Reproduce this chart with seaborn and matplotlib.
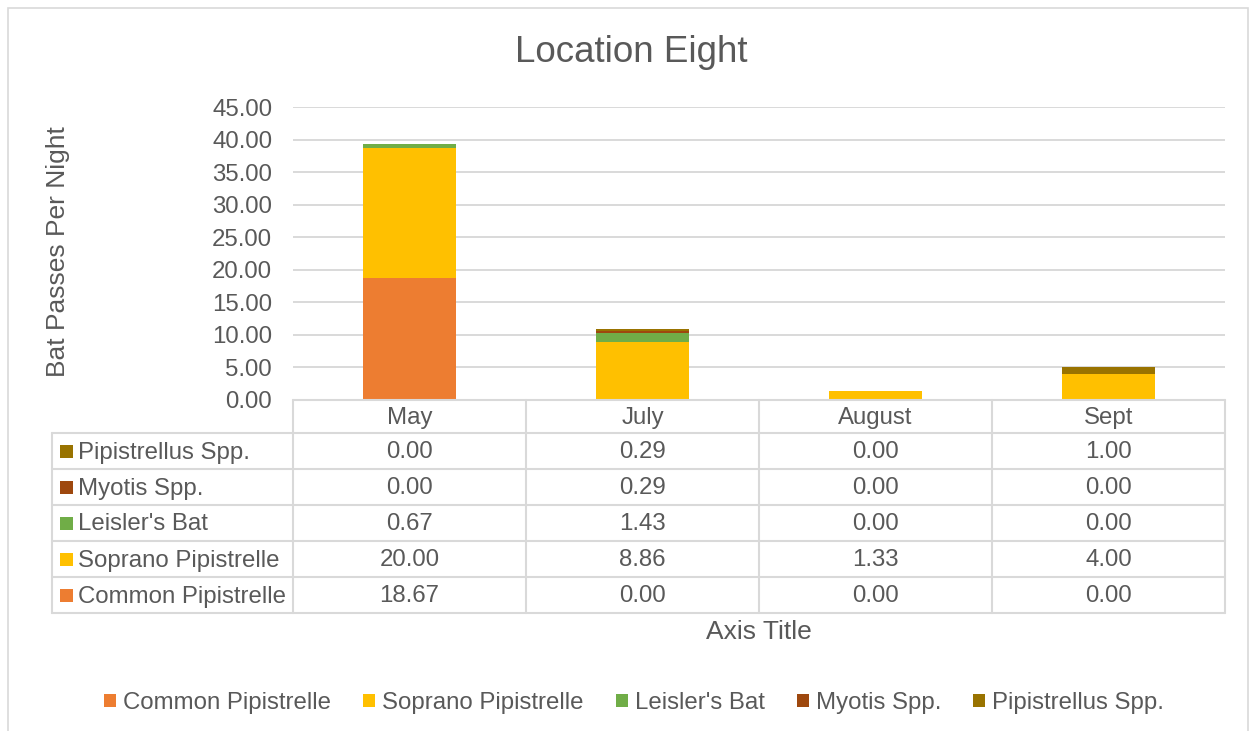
import numpy as np
import matplotlib
matplotlib.use("Agg")
import matplotlib.pyplot as plt
from matplotlib.patches import Rectangle, Patch
from matplotlib.lines import Line2D
import seaborn as sns

# ---- data ----
months = ["May", "July", "August", "Sept"]
species = ["Common Pipistrelle", "Soprano Pipistrelle", "Leisler's Bat",
           "Myotis Spp.", "Pipistrellus Spp."]
common_pipistrelle = [18.67, 0.00, 0.00, 0.00]
soprano_pipistrelle = [20.00, 8.86, 1.33, 4.00]
leislers_bat = [0.67, 1.43, 0.00, 0.00]
myotis_spp = [0.00, 0.29, 0.00, 0.00]
pipistrellus_spp = [0.00, 0.29, 0.00, 1.00]
y_ticks = [0, 5, 10, 15, 20, 25, 30, 35, 40, 45]

series = [common_pipistrelle, soprano_pipistrelle, leislers_bat,
          myotis_spp, pipistrellus_spp]
colors = ["#ED7D31", "#FFC000", "#70AD47", "#9E480E", "#997300"]

# ---- style ----
sns.set_theme(style="white")
plt.rcParams["font.family"] = ["Liberation Sans", "DejaVu Sans"]
TEXT = "#595959"
GRID = "#D9D9D9"
FS = 17.3

W, H = 1255, 731
fig = plt.figure(figsize=(W / 100, H / 100), dpi=100)

# plot area in pixels (left, right, top, bottom)
PL, PR, PT, PB = 293, 1225, 107, 400
ax = fig.add_axes([PL / W, 1 - PB / H, (PR - PL) / W, (PB - PT) / H])

bottom = np.zeros(len(months))
for name, vals, col in zip(species, series, colors):
    sns.barplot(x=months, y=vals, order=months, bottom=bottom, color=col,
                saturation=1, width=0.4, errorbar=None, ax=ax,
                linewidth=0, zorder=3)
    bottom = bottom + np.asarray(vals)

ax.set_xlim(-0.5, len(months) - 0.5)
ax.set_ylim(0, 45)
ax.set_yticks(y_ticks)
ax.set_yticklabels([f"{v:.2f}" for v in y_ticks], color=TEXT, fontsize=FS)
ax.tick_params(axis="y", length=0, pad=15)
ax.set_xticks([])
ax.set_xlabel("")
ax.set_ylabel("")
ax.yaxis.grid(True, color=GRID, linewidth=1.4, zorder=0)
ax.set_axisbelow(True)
for s in ax.spines.values():
    s.set_visible(False)

# title and axis titles
fig.text(631 / W, 1 - 52 / H, "Location Eight", ha="center", va="center",
         fontsize=26.5, color=TEXT)
fig.text(58 / W, 1 - 252 / H, "Bat Passes Per Night", ha="center",
         va="center", rotation=90, fontsize=19, color=TEXT)
fig.text(759 / W, 1 - 632 / H, "Axis Title", ha="center", va="center",
         fontsize=19, color=TEXT)

# ---- data table below the plot (pixel coordinates) ----
tab = fig.add_axes([0, 0, 1, 1], zorder=5)
tab.set_xlim(0, W)
tab.set_ylim(H, 0)
tab.axis("off")
tab.patch.set_alpha(0)

TL = 52
HEADER_BOTTOM = 433
ROW_H = 36
n_rows = len(species)
col_w = (PR - PL) / len(months)
col_edges = [PL + i * col_w for i in range(len(months) + 1)]
row_edges = [HEADER_BOTTOM + i * ROW_H for i in range(n_rows + 1)]
TB = row_edges[-1]
lw = 1.5

# horizontal rules
tab.add_line(Line2D([PL, PR], [PB, PB], color=GRID, lw=lw))
for y in row_edges:
    tab.add_line(Line2D([TL, PR], [y, y], color=GRID, lw=lw))
# vertical rules
tab.add_line(Line2D([TL, TL], [HEADER_BOTTOM, TB], color=GRID, lw=lw))
for x in col_edges:
    tab.add_line(Line2D([x, x], [PB, TB], color=GRID, lw=lw))

# month header
for i, m in enumerate(months):
    tab.text(col_edges[i] + col_w / 2, (PB + HEADER_BOTTOM) / 2 + 1.5, m,
             ha="center", va="center", fontsize=FS, color=TEXT)

# rows: top row is the last series
for r, idx in enumerate(reversed(range(n_rows))):
    yc = row_edges[r] + ROW_H / 2
    tab.add_patch(Rectangle((60, yc - 6.5), 13, 13, color=colors[idx], lw=0))
    tab.text(78, yc + 1.5, species[idx], ha="left", va="center",
             fontsize=FS, color=TEXT)
    for i, v in enumerate(series[idx]):
        tab.text(col_edges[i] + col_w / 2, yc + 1.5, f"{v:.2f}", ha="center",
                 va="center", fontsize=FS, color=TEXT)

# ---- legend ----
handles = [Patch(facecolor=c, edgecolor="none", label=s)
           for s, c in zip(species, colors)]
fig.legend(handles=handles, loc="center", bbox_to_anchor=(634 / W, 1 - 703 / H),
           ncol=5, frameon=False, fontsize=FS, labelcolor=TEXT,
           handlelength=0.5, handleheight=0.5, handletextpad=0.3,
           columnspacing=1.33)

# chart border
fig.patches.append(Rectangle((8 / W, -0.05), 1240 / W, 1.05 - 8 / H,
                             transform=fig.transFigure, fill=False,
                             edgecolor=GRID, lw=1.2))

fig.savefig("out.png", dpi=100, facecolor="white")
